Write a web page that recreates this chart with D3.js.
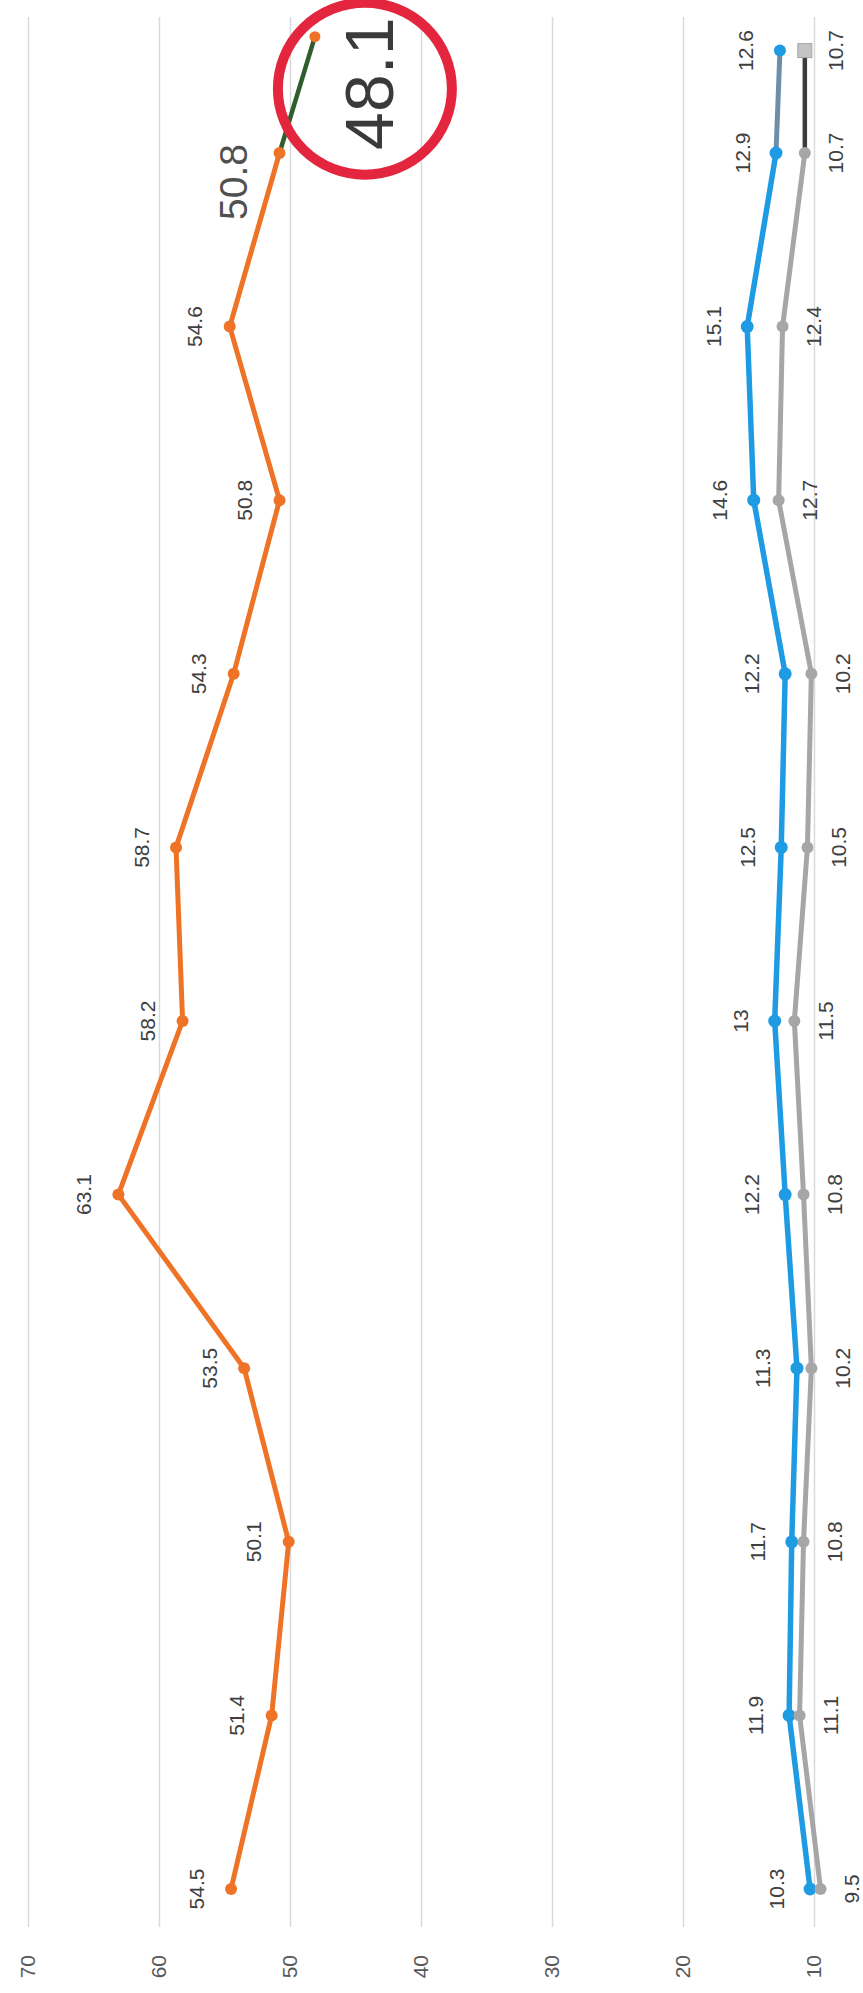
<!DOCTYPE html>
<html>
<head>
<meta charset="utf-8">
<script src="https://cdn.jsdelivr.net/npm/d3@7"></script>
<style>
  html, body { margin: 0; padding: 0; background: #fff; }
  svg { display: block; }
</style>
</head>
<body>
<div id="chart"></div>
<script>
// ---- data ----
const periods = [0, 1, 2, 3, 4, 5, 6, 7, 8, 9, 10, 10.59];
const orangeLatestPeriod = 10.67;
const seriesOrange = [54.5, 51.4, 50.1, 53.5, 63.1, 58.2, 58.7, 54.3, 50.8, 54.6, 50.8, 48.1];
const seriesBlue   = [10.3, 11.9, 11.7, 11.3, 12.2, 13, 12.5, 12.2, 14.6, 15.1, 12.9, 12.6];
const seriesGray   = [9.5, 11.1, 10.8, 10.2, 10.8, 11.5, 10.5, 10.2, 12.7, 12.4, 10.7, 10.7];
const tickValues = [10, 20, 30, 40, 50, 60, 70];
const highlightValue = "48.1";

// ---- layout ----
const W = 863, H = 1993;
const svg = d3.select("#chart").append("svg").attr("width", W).attr("height", H);
svg.append("rect").attr("width", W).attr("height", H).attr("fill", "#fff");

// chart is drawn in its original orientation, then turned 90° counter-clockwise
const g = svg.append("g").attr("transform", `translate(0,${H}) rotate(-90)`);

const x = d3.scaleLinear().domain([0, 10]).range([104, 1840]);
const y = d3.scaleLinear().domain([0, 70]).range([945, 28]);

const plotLeft = 66, plotRight = 1976;
const axis = g.append("g").attr("transform", `translate(${plotLeft},0)`)
  .call(d3.axisLeft(y).tickValues(tickValues).tickSize(-(plotRight - plotLeft)).tickPadding(28))
  .call(a => a.select(".domain").remove());
axis.selectAll(".tick line").attr("stroke", "#d9d9d9").attr("stroke-width", 1.5);
axis.selectAll(".tick text").attr("fill", "#595959").style("font-family", "Liberation Sans, Arial, sans-serif").style("font-size", "21px");

const font = "Liberation Sans, Arial, sans-serif";

function drawSeries(values, pos, color, lastColor, width, r, lastMarker) {
  const pts = values.map((v, i) => [x(pos[i]), y(v)]);
  const line = d3.line();
  g.append("path").attr("d", line(pts.slice(0, pts.length - 1)))
    .attr("fill", "none").attr("stroke", color).attr("stroke-width", width)
    .attr("stroke-linejoin", "round").attr("stroke-linecap", "round");
  g.append("path").attr("d", line(pts.slice(pts.length - 2)))
    .attr("fill", "none").attr("stroke", lastColor).attr("stroke-width", width - 0.5)
    .attr("stroke-linecap", "round");
  g.selectAll(null).data(pts.slice(0, pts.length - 1)).enter().append("circle")
    .attr("cx", d => d[0]).attr("cy", d => d[1]).attr("r", r).attr("fill", color);
  const last = pts[pts.length - 1];
  if (lastMarker === "square") {
    g.append("rect").attr("x", last[0] - 7).attr("y", last[1] - 7).attr("width", 14).attr("height", 14)
      .attr("fill", "#c4c4c4").attr("stroke", "#a6a6a6");
  } else {
    g.append("circle").attr("cx", last[0]).attr("cy", last[1]).attr("r", r - 0.5).attr("fill", color);
  }
  return pts;
}

const orangePos = periods.slice(0, periods.length - 1).concat([orangeLatestPeriod]);
const ptsO = drawSeries(seriesOrange, orangePos, "#EE7326", "#2f5e2c", 5, 6, "circle");
const ptsB = drawSeries(seriesBlue, periods, "#1E9BE3", "#6d8ea6", 5.5, 6.5, "circle");
const ptsG = drawSeries(seriesGray, periods, "#A6A6A6", "#3c3c3c", 5, 6, "square");

function labels(values, pts, dy, skip) {
  values.forEach((v, i) => {
    if (skip.includes(i)) return;
    g.append("text").attr("x", pts[i][0]).attr("y", pts[i][1] + dy)
      .attr("text-anchor", "middle").attr("dominant-baseline", "central")
      .attr("fill", "#404040").style("font-family", font).style("font-size", "21px")
      .text(v);
  });
}
labels(seriesOrange, ptsO, -35, [10, 11]);
labels(seriesBlue, ptsB, -34, []);
labels(seriesGray, ptsG, 31, []);

// enlarged label for the second-to-last orange point
g.append("text").attr("x", ptsO[10][0] - 29).attr("y", ptsO[10][1] - 46)
  .attr("text-anchor", "middle").attr("dominant-baseline", "central")
  .attr("fill", "#505050").style("font-family", font).style("font-size", "39px")
  .text(seriesOrange[10]);

// highlighted latest value in a red circle
const lp = ptsO[11];
g.append("ellipse").attr("cx", lp[0] - 52).attr("cy", lp[1] + 50).attr("rx", 86).attr("ry", 87)
  .attr("fill", "none").attr("stroke", "#e3263d").attr("stroke-width", 10);
g.append("text").attr("x", lp[0] - 47).attr("y", lp[1] + 54)
  .attr("text-anchor", "middle").attr("dominant-baseline", "central")
  .attr("fill", "#3a3a3a").style("font-family", font).style("font-size", "68px")
  .text(highlightValue);
</script>
</body>
</html>
